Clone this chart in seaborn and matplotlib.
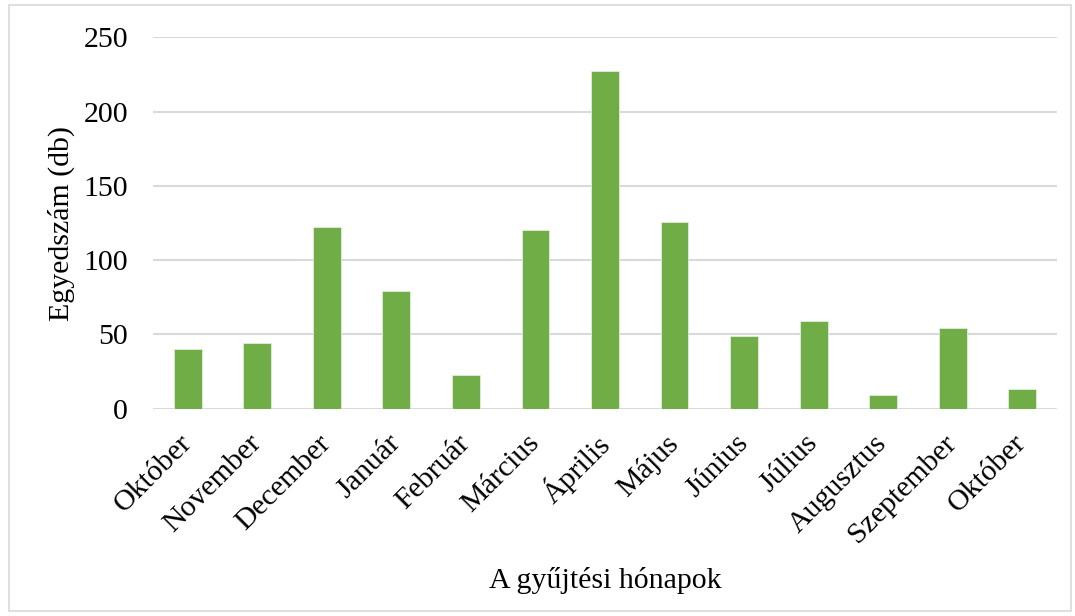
import pandas as pd
import matplotlib.pyplot as plt
import seaborn as sns
from matplotlib.patches import Rectangle

# Data
months = ["Október", "November", "December", "Január", "Február", "Március",
          "Április", "Május", "Június", "Július", "Augusztus", "Szeptember", "Október"]
counts = [40, 44, 122, 79, 23, 120, 227, 126, 49, 59, 9, 54, 13]

df = pd.DataFrame({"idx": range(len(months)), "count": counts})

sns.set_theme(style="white")
plt.rcParams['font.family'] = ['Liberation Serif', 'DejaVu Serif']

fig = plt.figure(figsize=(10.75, 6.16), dpi=100)
ax = fig.add_axes([0.1423, 0.3365, 0.8410, 0.6029])

sns.barplot(data=df, x="idx", y="count", ax=ax, color="#70ad47",
            width=0.4, saturation=1, edgecolor="#e2efda", linewidth=0.6, zorder=3)

ax.set_ylim(0, 250)
ax.set_yticks([0, 50, 100, 150, 200, 250])
ax.yaxis.grid(True, color="#d9d9d9", linewidth=1.5, zorder=0)
ax.set_axisbelow(True)
for s in ax.spines.values():
    s.set_visible(False)

fs = 21.5
ax.set_xticks(range(len(months)))
ax.set_xticklabels(months, rotation=45, ha="right", va="center", rotation_mode="anchor")
ax.tick_params(axis="x", length=0, pad=22, labelsize=fs, colors="black")
ax.tick_params(axis="y", length=0, pad=18, labelsize=fs, colors="black")

ax.set_xlabel("A gyűjtési hónapok", fontsize=fs, color="black", labelpad=14)
ax.set_ylabel("Egyedszám (db)", fontsize=fs, color="black", labelpad=6)

# light frame around the whole chart
fig.patches.append(Rectangle((0.008, 0.008), 0.988, 0.984, transform=fig.transFigure,
                             fill=False, edgecolor="#d9d9d9", linewidth=1.2))

fig.savefig("out.png", dpi=100)
